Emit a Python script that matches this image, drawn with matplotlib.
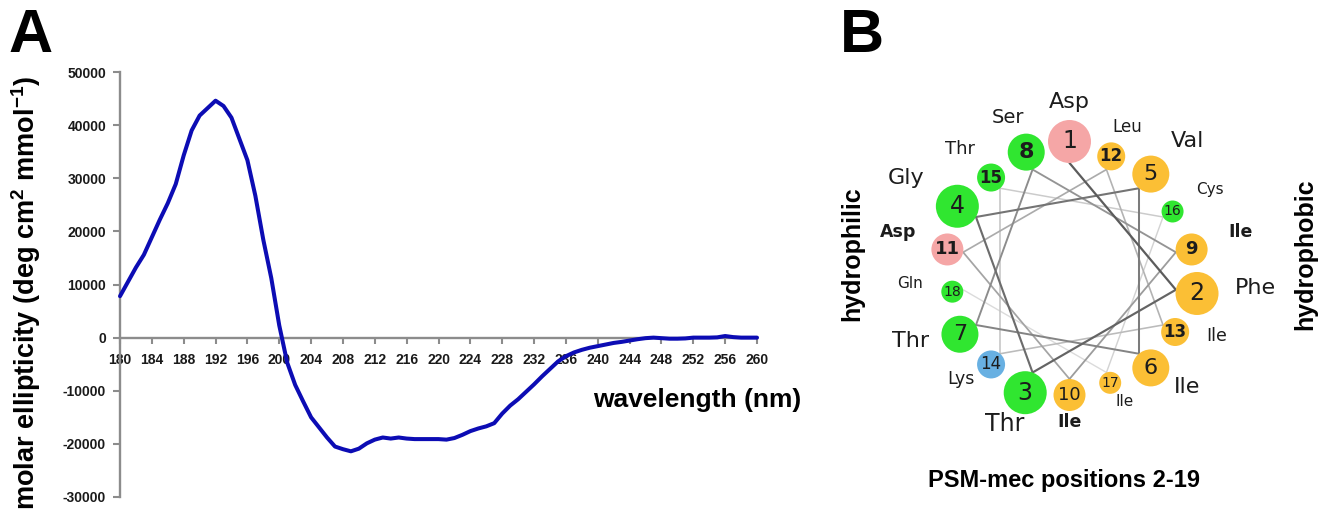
import numpy as np
import matplotlib
matplotlib.use("Agg")
import matplotlib.pyplot as plt
from matplotlib.patches import Circle

# ---------------- data: panel A (CD spectrum) ----------------
wavelength = list(range(180, 261))
ellipticity = [
    7800, 10500, 13200, 15600, 18900, 22200, 25300, 28900, 34300, 39000,   # 180-189
    41800, 43200, 44600, 43600, 41400, 37400, 33400, 26700, 18400, 11200,  # 190-199
    2300, -4700, -8900, -12000, -15000, -16900, -18800, -20500, -21000, -21400,  # 200-209
    -20900, -19900, -19200, -18800, -19000, -18800, -19000, -19100, -19100, -19100,  # 210-219
    -19100, -19200, -18900, -18300, -17600, -17100, -16700, -16100, -14300, -12800,  # 220-229
    -11600, -10200, -8800, -7300, -5900, -4500, -3500, -2800, -2300, -1900,  # 230-239
    -1600, -1300, -1000, -800, -550, -300, -100, 0, -100, -200,  # 240-249
    -200, -150, 0, 0, 0, 50, 300, 100, 0, 0,  # 250-259
    0,  # 260
]
x_ticks = list(range(180, 261, 4))
y_ticks = list(range(-30000, 50001, 10000))

# ---------------- data: panel B (helical wheel) ----------------
residues = ["Asp", "Phe", "Thr", "Gly", "Val", "Ile", "Thr", "Ser", "Ile",
            "Ile", "Asp", "Leu", "Ile", "Lys", "Thr", "Cys", "Ile", "Gln"]
res_class = ["acidic", "hydrophobic", "polar", "polar", "hydrophobic",
             "hydrophobic", "polar", "polar", "hydrophobic", "hydrophobic",
             "acidic", "hydrophobic", "hydrophobic", "basic", "polar",
             "polar", "hydrophobic", "polar"]

# ---------------- style ----------------
W, H = 1321, 532
class_colors = {"acidic": "#f5a6a6", "hydrophobic": "#fbbf35",
                "polar": "#30e630", "basic": "#68b0e2"}
circle_r = [21.5] * 4 + [18.5] * 4 + [16] * 3 + [14] * 4 + [11] * 3
num_size = [17] * 4 + [16] * 4 + [13] * 3 + [12] * 4 + [10] * 3
num_bold = {8, 9, 11, 12, 13, 15}
lab_size = [16, 16, 17, 16, 16, 16, 16, 14, 12.5, 12.5, 12.5, 12, 12.5, 12.5, 13, 11, 11, 11]
lab_bold = {9, 10, 11}
R_in = 108.0
cx_px, cy_px = 1069.5, 271.0

plt.rcParams["mathtext.fontset"] = "custom"
plt.rcParams["mathtext.rm"] = "Liberation Sans"
plt.rcParams["mathtext.bf"] = "Liberation Sans:bold"

fig = plt.figure(figsize=(W / 100, H / 100), dpi=100)
fig.patch.set_facecolor("white")

# ---------------- panel A ----------------
axA = fig.add_axes([120 / W, 1 - 497 / H, (757 - 120) / W, (497 - 72) / H])
axA.plot(wavelength, ellipticity, color="#0c0cb4", lw=2.9,
         solid_joinstyle="round", solid_capstyle="round", zorder=3, clip_on=False)
axA.set_xlim(180, 260)
axA.set_ylim(-30000, 50000)
for s in ("top", "right"):
    axA.spines[s].set_visible(False)
axA.spines["bottom"].set_position(("data", 0))
spine_col = "#8c8c8c"
for s in ("left", "bottom"):
    axA.spines[s].set_color(spine_col)
    axA.spines[s].set_linewidth(1.7)
axA.set_xticks(x_ticks)
axA.set_xticklabels([str(v) for v in x_ticks], fontfamily="Liberation Sans",
                    fontweight="bold", fontsize=10, color="#1a1a1a")
axA.set_yticks(y_ticks)
axA.set_yticklabels([str(v) for v in y_ticks], fontfamily="Liberation Sans",
                    fontweight="bold", fontsize=10, color="#1a1a1a")
axA.tick_params(axis="x", direction="out", length=4, width=1.5, color=spine_col, pad=7)
axA.tick_params(axis="y", direction="out", length=5, width=1.5, color=spine_col, pad=5)
axA.patch.set_alpha(0)

fig.text(8 / W, 1 - 8 / H, "A", fontfamily="Liberation Sans", fontweight="bold",
         fontsize=44, ha="left", va="top")
fig.text(697 / W, 1 - 400 / H, "wavelength (nm)", fontfamily="Liberation Sans",
         fontweight="bold", fontsize=19, ha="center", va="center")
fig.text(26 / W, 1 - 76 / H,
         r"molar ellipticity (deg cm$^{\mathbf{2}}$ mmol$^{\mathbf{-1}}$)",
         fontfamily="Liberation Sans", fontweight="bold", fontsize=19.5,
         rotation=90, ha="center", va="top")

# ---------------- panel B ----------------
axB = fig.add_axes([830 / W, 0, (W - 830) / W, 1])
axB.set_xlim(830 - cx_px, W - cx_px)
axB.set_ylim(cy_px - H, cy_px)
axB.axis("off")

n = len(residues)
theta = np.deg2rad(90 - 100 * np.arange(n))
vx, vy = R_in * np.cos(theta), R_in * np.sin(theta)

shades = np.linspace(0.36, 0.86, n - 1)
widths = np.linspace(1.6, 1.0, n - 1)
for i in range(n - 1):
    axB.plot([vx[i], vx[i + 1]], [vy[i], vy[i + 1]], color=str(shades[i]),
             lw=widths[i], zorder=1 + (n - i) * 0.001, solid_capstyle="round")

for i in range(n):
    r = circle_r[i]
    c, s = np.cos(theta[i]), np.sin(theta[i])
    cx, cy = (R_in + r) * c, (R_in + r) * s
    axB.add_patch(Circle((cx, cy), r, facecolor=class_colors[res_class[i]],
                         edgecolor="none", zorder=2))
    idx = i + 1
    axB.text(cx, cy, str(idx), ha="center", va="center", fontsize=num_size[i],
             fontfamily="DejaVu Sans",
             fontweight="bold" if idx in num_bold else "normal",
             color="#1c1c1c", zorder=3)
    sp = lab_size[i] * 100 / 72
    hw = 0.5 * len(residues[i]) * 0.6 * sp
    hh = 0.5 * 0.72 * sp
    lx = (R_in + 2 * r + hw + 18) * c
    ly = (R_in + 2 * r + hh + (10 if s > 0 else 5)) * s + 12 * c * c
    axB.text(lx, ly, residues[i], ha="center", va="center",
             fontsize=lab_size[i], fontfamily="DejaVu Sans",
             fontweight="bold" if idx in lab_bold else "normal",
             color="#1c1c1c", zorder=3)

fig.text(862 / W, 1 - 8 / H, "B", fontfamily="Liberation Sans", fontweight="bold",
         fontsize=44, ha="center", va="top")
fig.text(852 / W, 1 - 254 / H, "hydrophilic", fontfamily="Liberation Sans",
         fontweight="bold", fontsize=18, rotation=90, ha="center", va="center")
fig.text(1305 / W, 1 - 254 / H, "hydrophobic", fontfamily="Liberation Sans",
         fontweight="bold", fontsize=18, rotation=90, ha="center", va="center")
fig.text(1064 / W, 1 - 480 / H, "PSM-mec positions 2-19", fontfamily="Liberation Sans",
         fontweight="bold", fontsize=17, ha="center", va="center")

fig.savefig("out.png", dpi=100, facecolor="white")
